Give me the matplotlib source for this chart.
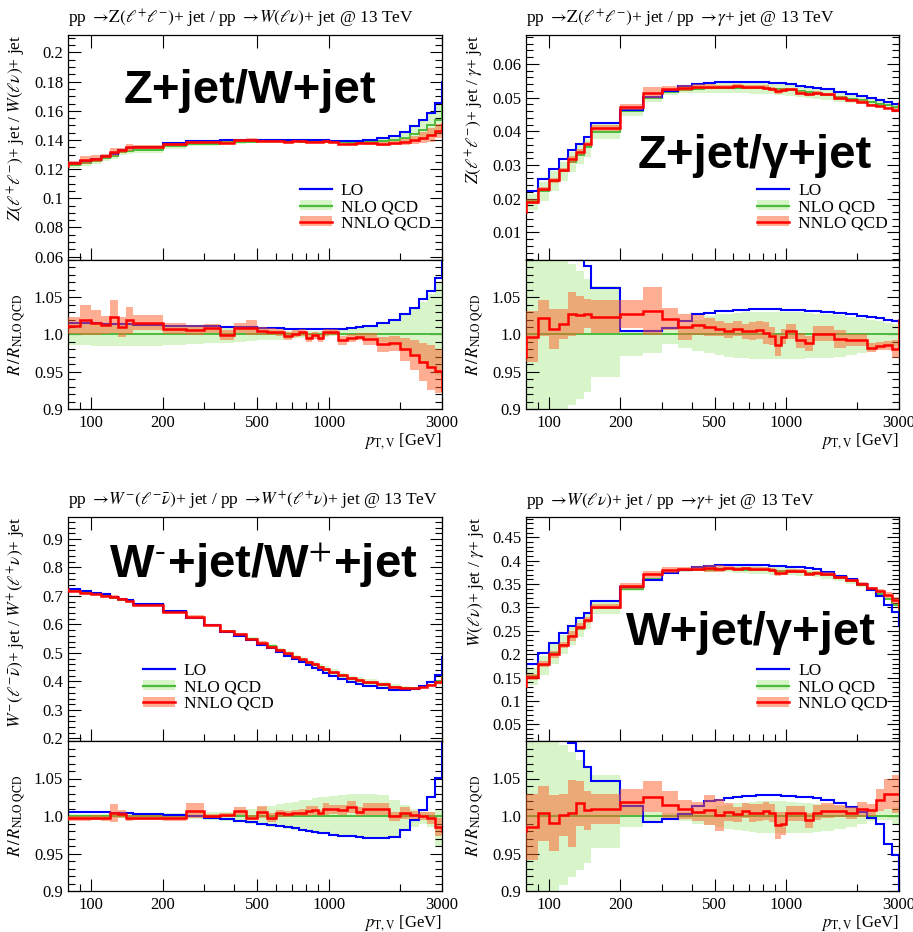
import numpy as np
import matplotlib
matplotlib.use("Agg")
import matplotlib.pyplot as plt
from matplotlib.patches import Patch
from matplotlib.lines import Line2D
from matplotlib.ticker import FixedLocator, MultipleLocator, NullFormatter, FuncFormatter

plt.rcParams['font.family'] = 'serif'
plt.rcParams['font.serif'] = ['Liberation Serif', 'DejaVu Serif']
plt.rcParams['mathtext.fontset'] = 'stix'

# pT,V bin edges (first and last bin sit just outside the plotted range)
edges = [70, 80, 90, 100, 110, 120, 130, 140, 150, 200, 250, 300, 350, 400, 450,
         500, 550, 600, 650, 700, 750, 800, 850, 900, 950, 1000, 1100, 1200, 1300,
         1400, 1600, 1800, 2000, 2200, 2400, 2600, 2800, 3000, 3500]

# Z+jet / W+jet
zw_nlo = [0.121, 0.1226, 0.1240, 0.1253, 0.1274, 0.1288, 0.1315, 0.1324, 0.1332,
          0.1360, 0.1375, 0.1375, 0.1384, 0.1385, 0.1389,
          0.1390, 0.1390, 0.1390, 0.1392, 0.1390, 0.1388, 0.1392, 0.1390, 0.1393, 0.1388,
          0.1385, 0.1383, 0.1382, 0.1382, 0.1385, 0.1390, 0.1397, 0.1417, 0.1441, 0.1471,
          0.1500, 0.1538, 0.163]
zw_lo_r = [1.015, 1.015, 1.015, 1.015, 1.0145, 1.014, 1.014, 1.0135, 1.013,
           1.012, 1.0115, 1.011, 1.0105, 1.010, 1.0095,
           1.009, 1.0088, 1.0085, 1.008, 1.0078, 1.0075, 1.0072, 1.007, 1.007, 1.007,
           1.007, 1.0076, 1.0085, 1.010, 1.012, 1.015, 1.020, 1.027, 1.036, 1.047,
           1.059, 1.076, 1.104]
zw_nlo_up = [1.015, 1.015, 1.015, 1.015, 1.015, 1.015, 1.015, 1.015, 1.015,
             1.013, 1.012, 1.011, 1.010, 1.009, 1.008,
             1.007, 1.006, 1.006, 1.005, 1.005, 1.005, 1.005, 1.005, 1.005, 1.005,
             1.006, 1.007, 1.008, 1.010, 1.012, 1.015, 1.020, 1.026, 1.034, 1.044,
             1.055, 1.070, 1.10]
zw_nlo_dn = [0.986, 0.986, 0.986, 0.985, 0.984, 0.984, 0.984, 0.984, 0.985,
             0.986, 0.987, 0.988, 0.989, 0.990, 0.991,
             0.992, 0.993, 0.993, 0.994, 0.995, 0.995, 0.996, 0.996, 0.997, 0.997,
             0.998, 0.998, 0.998, 0.997, 0.995, 0.990, 0.985, 0.978, 0.970, 0.962,
             0.955, 0.945, 0.94]
zw_nnlo_r = [1.01, 1.012, 1.019, 1.016, 1.013, 1.024, 1.010, 1.019, 1.016,
             1.008, 1.006, 1.0085, 0.999, 1.0085, 1.009,
             1.0045, 1.004, 1.003, 0.998, 1.0013, 1.003, 0.9955, 0.9987, 0.9955, 1.003,
             1.003, 0.9924, 0.995, 0.997, 0.994, 0.9866, 0.988, 0.980, 0.972, 0.963,
             0.956, 0.951, 0.925]
zw_nnlo_err = [0.012, 0.012, 0.02, 0.017, 0.012, 0.022, 0.013, 0.018, 0.01,
               0.008, 0.007, 0.006, 0.007, 0.007, 0.01,
               0.005, 0.005, 0.005, 0.005, 0.005, 0.005, 0.006, 0.005, 0.005, 0.005,
               0.004, 0.006, 0.005, 0.005, 0.008, 0.01, 0.01, 0.015, 0.02, 0.025,
               0.03, 0.03, 0.03]

# Z+jet / gamma+jet
zg_nlo = [0.0165, 0.0192, 0.0223, 0.0253, 0.0281, 0.0308, 0.0330, 0.0352, 0.0399,
          0.0460, 0.0499, 0.0516, 0.0524, 0.0526, 0.0528,
          0.0529, 0.0530, 0.0530, 0.0530, 0.0529, 0.0529, 0.0528, 0.0527, 0.0526, 0.0525,
          0.0522, 0.0519, 0.0516, 0.0513, 0.0509, 0.0503, 0.0497, 0.0492, 0.0487, 0.0482,
          0.0477, 0.0472, 0.0475]
zg_lo_r = [1.19, 1.167, 1.157, 1.142, 1.128, 1.114, 1.10, 1.092, 1.062,
           1.005, 1.005, 1.009, 1.0175, 1.0276, 1.029,
           1.031, 1.032, 1.033, 1.0335, 1.0338, 1.034, 1.034, 1.034, 1.0338, 1.0335,
           1.033, 1.0325, 1.032, 1.031, 1.030, 1.029, 1.027, 1.0255, 1.024, 1.022,
           1.020, 1.018, 1.015]
zg_nlo_up = [1.12, 1.12, 1.12, 1.11, 1.10, 1.095, 1.085, 1.075, 1.065,
             1.005, 1.005, 1.008, 1.012, 1.02, 1.025,
             1.027, 1.028, 1.029, 1.03, 1.03, 1.03, 1.03, 1.03, 1.03, 1.03,
             1.03, 1.03, 1.029, 1.028, 1.027, 1.026, 1.024, 1.022, 1.02, 1.018,
             1.016, 1.014, 1.014]
zg_nlo_dn = [0.86, 0.86, 0.86, 0.88, 0.90, 0.906, 0.914, 0.923, 0.943,
             0.9715, 0.975, 0.987, 0.982, 0.978, 0.975,
             0.972, 0.970, 0.969, 0.968, 0.967, 0.967, 0.967, 0.967, 0.967, 0.967,
             0.967, 0.967, 0.968, 0.968, 0.969, 0.970, 0.972, 0.975, 0.978, 0.980,
             0.983, 0.985, 0.985]
zg_nnlo_r = [0.97, 0.997, 1.022, 1.0075, 1.0136, 1.0276, 1.026, 1.028, 1.024,
             1.0276, 1.0316, 1.0206, 1.010, 1.013, 1.0096,
             1.0075, 1.005, 1.008, 1.0044, 1.0044, 1.0066, 1.0022, 0.9978, 0.9855, 0.997,
             1.0044, 0.9925, 0.988, 1.001, 1.0013, 0.9934, 0.9925, 0.9925, 0.9825, 0.9846,
             0.9855, 0.980, 1.02]
zg_nnlo_err = [0.034, 0.034, 0.024, 0.027, 0.02, 0.03, 0.026, 0.019, 0.022,
               0.019, 0.032, 0.015, 0.018, 0.013, 0.012,
               0.01, 0.01, 0.01, 0.01, 0.012, 0.012, 0.015, 0.012, 0.015, 0.01,
               0.01, 0.01, 0.01, 0.01, 0.01, 0.012, 0.008, 0.008, 0.006, 0.006,
               0.006, 0.012, 0.012]

# W-+jet / W++jet
wm_nlo = [0.725, 0.721, 0.714, 0.707, 0.702, 0.694, 0.686, 0.682, 0.669,
          0.6446, 0.621, 0.598, 0.577, 0.5627, 0.549,
          0.533, 0.523, 0.5087, 0.4975, 0.485, 0.4757, 0.4653, 0.4566, 0.4504, 0.441,
          0.4306, 0.4194, 0.4087, 0.403, 0.3957, 0.3876, 0.382, 0.377, 0.3755, 0.3795,
          0.389, 0.4025, 0.42]
wm_lo_r = [1.006, 1.0058, 1.0058, 1.006, 1.0054, 1.0045, 1.004, 1.0035, 1.003,
           1.002, 1.0005, 0.998, 0.996, 0.994, 0.992,
           0.990, 0.988, 0.987, 0.985, 0.984, 0.982, 0.980, 0.979, 0.978, 0.977,
           0.975, 0.974, 0.973, 0.972, 0.971, 0.971, 0.972, 0.981, 0.9946, 1.008,
           1.026, 1.051, 1.16]
wm_nlo_up = [1.003, 1.003, 1.003, 1.003, 1.003, 1.003, 1.003, 1.003, 1.003,
             1.004, 1.004, 1.005, 1.006, 1.008, 1.010,
             1.012, 1.014, 1.016, 1.018, 1.019, 1.021, 1.022, 1.024, 1.025, 1.026,
             1.027, 1.028, 1.029, 1.030, 1.030, 1.028, 1.022, 1.015, 1.010, 1.006,
             1.005, 1.01, 1.01]
wm_nlo_dn = [0.997, 0.997, 0.997, 0.997, 0.997, 0.997, 0.997, 0.997, 0.997,
             0.996, 0.996, 0.995, 0.994, 0.992, 0.990,
             0.988, 0.986, 0.985, 0.983, 0.982, 0.980, 0.979, 0.978, 0.977, 0.976,
             0.975, 0.974, 0.973, 0.972, 0.972, 0.972, 0.974, 0.980, 0.986, 0.990,
             0.985, 0.96, 0.96]
wm_nnlo_r = [0.997, 0.997, 0.997, 0.998, 0.997, 1.0036, 1.0027, 0.998, 0.998,
             0.997, 1.0067, 1.0, 1.0013, 1.007, 0.998,
             1.0058, 0.998, 1.0036, 1.0027, 1.0045, 1.0045, 1.0067, 1.008, 1.0036, 1.009,
             1.009, 1.008, 1.0116, 1.0058, 1.0094, 1.0094, 1.0, 1.0036, 1.0013, 1.0,
             0.997, 0.9857, 0.98]
wm_nnlo_err = [0.003, 0.003, 0.003, 0.003, 0.003, 0.012, 0.005, 0.004, 0.003,
               0.003, 0.01, 0.003, 0.003, 0.005, 0.003,
               0.008, 0.006, 0.005, 0.004, 0.004, 0.005, 0.007, 0.006, 0.004, 0.008,
               0.006, 0.007, 0.008, 0.006, 0.008, 0.008, 0.006, 0.008, 0.005, 0.005,
               0.008, 0.012, 0.012]

# W+jet / gamma+jet
wg_nlo = [0.135, 0.1527, 0.1775, 0.2015, 0.2201, 0.238, 0.2546, 0.271, 0.2987,
          0.3395, 0.3615, 0.3746, 0.379, 0.3808, 0.3805,
          0.3825, 0.3815, 0.3815, 0.381, 0.3805, 0.380, 0.3795, 0.379, 0.3785, 0.378,
          0.377, 0.376, 0.3745, 0.373, 0.369, 0.362, 0.356, 0.348, 0.339, 0.328,
          0.318, 0.306, 0.29]
wg_lo_r = [1.17, 1.177, 1.145, 1.115, 1.112, 1.097, 1.087, 1.066, 1.047,
           1.0134, 0.992, 0.9955, 1.003, 1.013, 1.0195,
           1.022, 1.024, 1.0255, 1.0265, 1.027, 1.0275, 1.0275, 1.0275, 1.0275, 1.027,
           1.0265, 1.026, 1.025, 1.024, 1.021, 1.017, 1.012, 1.005, 0.998, 0.989,
           0.963, 0.948, 0.90]
wg_nlo_up = [1.12, 1.12, 1.11, 1.10, 1.095, 1.085, 1.075, 1.065, 1.055,
             1.02, 1.005, 1.004, 1.005, 1.007, 1.01,
             1.013, 1.015, 1.017, 1.018, 1.019, 1.02, 1.02, 1.02, 1.02, 1.02,
             1.019, 1.018, 1.017, 1.016, 1.015, 1.013, 1.011, 1.009, 1.007, 1.008,
             1.01, 1.012, 1.012]
wg_nlo_dn = [0.88, 0.88, 0.88, 0.89, 0.9076, 0.919, 0.928, 0.937, 0.957,
             0.985, 0.993, 0.995, 0.993, 0.990, 0.988,
             0.985, 0.983, 0.981, 0.980, 0.979, 0.978, 0.977, 0.977, 0.977, 0.977,
             0.977, 0.977, 0.978, 0.979, 0.980, 0.983, 0.986, 0.990, 0.993, 0.995,
             0.995, 0.99, 0.99]
wg_nnlo_r = [0.98, 0.9857, 1.0036, 0.991, 1.0013, 1.0036, 1.017, 1.008, 1.010,
             1.019, 1.026, 1.0147, 1.009, 1.0058, 1.008,
             1.0013, 1.0058, 1.0022, 1.0067, 1.0036, 1.0045, 1.0067, 1.0036, 0.988, 0.990,
             1.0036, 1.0036, 0.9946, 1.0045, 1.007, 1.0067, 1.0045, 1.009, 1.008, 1.0214,
             1.030, 1.0295, 1.03]
wg_nnlo_err = [0.044, 0.044, 0.037, 0.037, 0.028, 0.045, 0.03, 0.026, 0.02,
               0.017, 0.021, 0.018, 0.013, 0.013, 0.02,
               0.021, 0.012, 0.01, 0.01, 0.012, 0.011, 0.012, 0.012, 0.018, 0.015,
               0.01, 0.01, 0.01, 0.01, 0.01, 0.008, 0.008, 0.01, 0.008, 0.015,
               0.02, 0.025, 0.025]

BLUE = '#0000ff'
GREEN = '#4cbb3c'
GREEN_BAND = '#d7f5c8'
SALMON = '#ff5f28'
BAND_ALPHA = 0.5
RED = '#ff0000'

W, H = 913, 932


def rect(x0, x1, y0, y1):
    # pixel box -> figure fraction
    return [x0 / W, 1 - y1 / H, (x1 - x0) / W, (y1 - y0) / H]


def draw_hists(ax, scale, nlo_dn, nlo_up, lo_r, nnlo_r, nnlo_err):
    ax.stairs(scale * nlo_up, edges, baseline=scale * nlo_dn, fill=True,
              color=GREEN_BAND, lw=0, zorder=1)
    ax.stairs(scale * np.ones_like(lo_r), edges, color=GREEN, lw=1.4, zorder=2)
    ax.stairs(scale * lo_r, edges, color=BLUE, lw=1.5, zorder=2.5)
    ax.stairs(scale * (nnlo_r + nnlo_err), edges, baseline=scale * (nnlo_r - nnlo_err),
              fill=True, color=SALMON, alpha=BAND_ALPHA, lw=0, zorder=3)
    ax.stairs(scale * nnlo_r, edges, color=RED, lw=1.8, zorder=4)


def style_x(ax):
    ax.set_xscale('log')
    ax.set_xlim(80, 3000)
    ax.xaxis.set_major_locator(FixedLocator([100, 200, 500, 1000, 3000]))
    ax.xaxis.set_minor_locator(FixedLocator([90, 300, 400, 600, 700, 800, 900, 2000]))
    ax.xaxis.set_minor_formatter(NullFormatter())
    ax.xaxis.set_major_formatter(FuncFormatter(lambda v, p: '%d' % round(v)))
    ax.tick_params(which='both', direction='in', right=True, width=0.8, labelsize=12)
    ax.tick_params(which='major', length=9)
    ax.tick_params(which='minor', length=5)
    ax.tick_params(axis='x', pad=4)
    for s in ax.spines.values():
        s.set_linewidth(0.9)


def panel(fig, x0, x1, ytop, ymid, ybot, data, ylim, yticks, yminor, ylabel, title,
          label, label_xy, leg_xy):
    nlo, lo_r, nlo_up, nlo_dn, nnlo_r, nnlo_err = [np.array(d) for d in data]

    ax = fig.add_axes(rect(x0, x1, ytop, ymid))
    rax = fig.add_axes(rect(x0, x1, ymid, ybot), sharex=ax)

    draw_hists(ax, nlo, nlo_dn, nlo_up, lo_r, nnlo_r, nnlo_err)
    draw_hists(rax, 1.0, nlo_dn, nlo_up, lo_r, nnlo_r, nnlo_err)

    style_x(ax)
    style_x(rax)
    ax.tick_params(top=True, labelbottom=False)
    rax.tick_params(top=False)

    ax.set_ylim(*ylim)
    ax.yaxis.set_major_locator(FixedLocator(yticks))
    ax.yaxis.set_minor_locator(MultipleLocator(yminor))
    ax.yaxis.set_major_formatter(FuncFormatter(lambda v, p: '%g' % round(v, 3)))

    rax.set_ylim(0.9, 1.1)
    rax.yaxis.set_major_locator(FixedLocator([0.9, 0.95, 1.0, 1.05]))
    rax.yaxis.set_minor_locator(MultipleLocator(0.01))
    rax.yaxis.set_major_formatter(FuncFormatter(
        lambda v, p: {0.9: '0.9', 0.95: '0.95', 1.0: '1.0', 1.05: '1.05'}.get(round(v, 2), '')))

    w = x1 - x0
    ax.set_ylabel(ylabel, loc='top', fontsize=12.5)
    ax.yaxis.set_label_coords(-40 / w, 1.0)
    rax.set_ylabel(r'$R\,/\,R_{\mathrm{NLO\ QCD}}$', fontsize=12)
    rax.yaxis.set_label_coords(-40 / w, 0.5)

    ax.text(0, 1 + 12 / (ymid - ytop), title, transform=ax.transAxes,
            ha='left', va='baseline', fontsize=12.5)
    rax.text(1.0, -36 / (ybot - ymid), r'$p_{\mathrm{T,V}}$ [GeV]', transform=rax.transAxes,
             ha='right', va='baseline', fontsize=12)

    ax.text(label_xy[0], label_xy[1], label, transform=ax.transAxes, ha='center',
            va='baseline', fontsize=34, family='Liberation Sans', weight='bold', zorder=6)

    handles = [Line2D([], [], color=BLUE, lw=1.6),
               (Patch(facecolor=GREEN_BAND, lw=0), Line2D([], [], color=GREEN, lw=1.6)),
               (Patch(facecolor=SALMON, alpha=BAND_ALPHA, lw=0), Line2D([], [], color=RED, lw=1.8))]
    ax.legend(handles, ['LO', 'NLO QCD', 'NNLO QCD'], loc='upper left',
              bbox_to_anchor=leg_xy, frameon=False, fontsize=12.5, handlelength=1.85,
              handleheight=0.5, handletextpad=0.5, labelspacing=0.02,
              borderpad=0, borderaxespad=0)


fig = plt.figure(figsize=(W / 100, H / 100), dpi=100)

panel(fig, 68, 442, 35, 260, 409,
      (zw_nlo, zw_lo_r, zw_nlo_up, zw_nlo_dn, zw_nnlo_r, zw_nnlo_err),
      (0.0577, 0.212), [0.06, 0.08, 0.1, 0.12, 0.14, 0.16, 0.18, 0.2], 0.005,
      r'$Z(\ell^{+}\ell^{-})$+ jet / $W(\ell\nu)$+ jet',
      r'pp $\rightarrow\!\mathrm{Z}(\ell^{+}\ell^{-})$+ jet / pp $\rightarrow\! W(\ell\nu)$+ jet @ 13 TeV',
      'Z+jet/W+jet', (0.4866, 0.698), (0.62, 0.343))

panel(fig, 526, 899, 35, 260, 409,
      (zg_nlo, zg_lo_r, zg_nlo_up, zg_nlo_dn, zg_nnlo_r, zg_nnlo_err),
      (0.0018, 0.0686), [0.01, 0.02, 0.03, 0.04, 0.05, 0.06], 0.002,
      r'$Z(\ell^{+}\ell^{-})$+ jet / $\gamma$+ jet',
      r'pp $\rightarrow\!\mathrm{Z}(\ell^{+}\ell^{-})$+ jet / pp $\rightarrow\!\gamma$+ jet @ 13 TeV',
      'Z+jet/γ+jet', (0.614, 0.409), (0.62, 0.343))

panel(fig, 68, 442, 517, 741, 891,
      (wm_nlo, wm_lo_r, wm_nlo_up, wm_nlo_dn, wm_nnlo_r, wm_nnlo_err),
      (0.191, 0.977), [0.2, 0.3, 0.4, 0.5, 0.6, 0.7, 0.8, 0.9], 0.02,
      r'$W^{-}(\ell^{-}\bar{\nu})$+ jet / $W^{+}(\ell^{+}\nu)$+ jet',
      r'pp $\rightarrow\! W^{-}(\ell^{-}\bar{\nu})$+ jet / pp $\rightarrow\! W^{+}(\ell^{+}\nu)$+ jet @ 13 TeV',
      r'W$^{\text{-}}$+jet/W$^{\text{+}}$+jet', (0.5227, 0.728), (0.2005, 0.348))

panel(fig, 526, 899, 517, 741, 891,
      (wg_nlo, wg_lo_r, wg_nlo_up, wg_nlo_dn, wg_nnlo_r, wg_nnlo_err),
      (0.0143, 0.4934), [0.05, 0.1, 0.15, 0.2, 0.25, 0.3, 0.35, 0.4, 0.45], 0.01,
      r'$W(\ell\nu)$+ jet / $\gamma$+ jet',
      r'pp $\rightarrow\! W(\ell\nu)$+ jet / pp $\rightarrow\!\gamma$+ jet @ 13 TeV',
      'W+jet/γ+jet', (0.604, 0.4286), (0.62, 0.348))

fig.savefig('out.png', dpi=100)
